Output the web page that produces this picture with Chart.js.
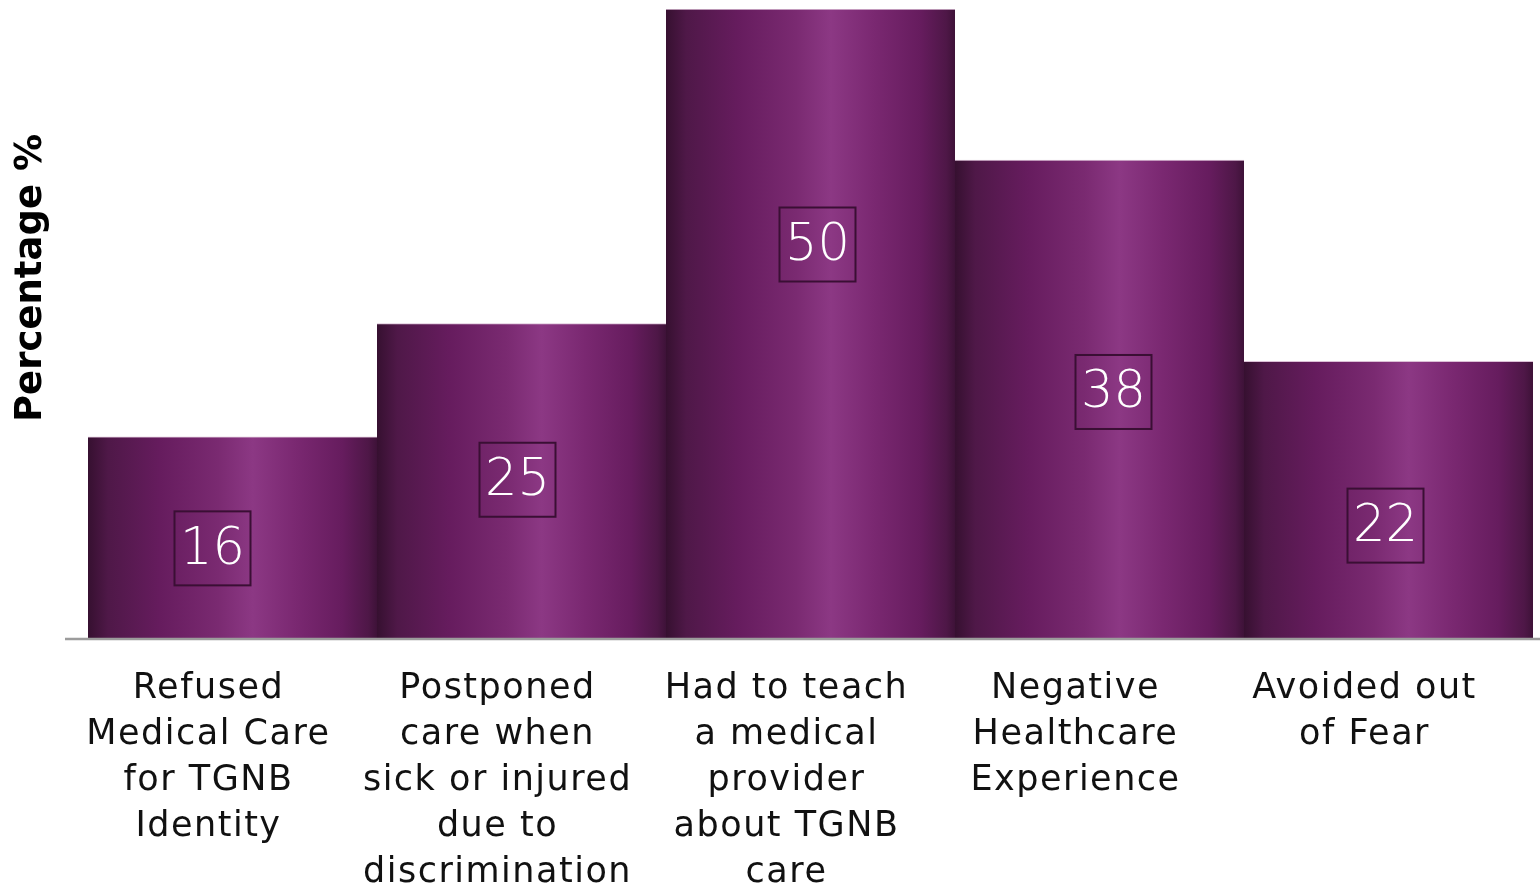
<!DOCTYPE html>
<html>
<head>
<meta charset="utf-8">
<script src="https://cdn.jsdelivr.net/npm/chart.js@4.4.0/dist/chart.umd.min.js"></script>
<style>
  html, body { margin: 0; padding: 0; background: #fff; }
</style>
</head>
<body>
<canvas id="myChart" width="1540" height="885"></canvas>
<script>
// data
const categories = [
  ['Refused', 'Medical Care', 'for TGNB', 'Identity'],
  ['Postponed', 'care when', 'sick or injured', 'due to', 'discrimination'],
  ['Had to teach', 'a medical', 'provider', 'about TGNB', 'care'],
  ['Negative', 'Healthcare', 'Experience'],
  ['Avoided out', 'of Fear']
]
const percentages = [16, 25, 50, 38, 22]
const yTitle = 'Percentage %'
const yMax = 50

// where the value boxes sit, relative to bar middle (as in the original slide)
const boxNudge = [[-20, 11], [-4, -1], [7, -79], [14, -7], [-3, 26]]
const FONT = '"DejaVu Sans", "Noto Sans", sans-serif'

// cylinder-ish shading across each bar
function barGradient(c) {
  const chart = c.chart
  const x = chart.scales.x
  if (!chart.chartArea || !x) return '#6e2066'
  const cx = x.getPixelForValue(c.dataIndex)
  const w = x.width / categories.length
  const g = chart.ctx.createLinearGradient(cx - w / 2, 0, cx + w / 2, 0)
  g.addColorStop(0, '#361030')
  g.addColorStop(0.07, '#4f1848')
  g.addColorStop(0.25, '#661c5e')
  g.addColorStop(0.45, '#7a2a71')
  g.addColorStop(0.57, '#8c3884')
  g.addColorStop(0.72, '#7a2871')
  g.addColorStop(0.88, '#661c5e')
  g.addColorStop(0.97, '#4e1747')
  g.addColorStop(1, '#3e1238')
  return g
}

const extras = {
  id: 'extras',
  beforeDraw(chart) {
    // the slide font is wide, so space the axis text out a little
    chart.ctx.letterSpacing = '1.5px'
  },
  beforeDatasetsDraw(chart) {
    chart.ctx.letterSpacing = '0px'
  },
  afterDatasetsDraw(chart) {
    const ctx = chart.ctx
    const area = chart.chartArea
    const y0 = chart.scales.y.getPixelForValue(0)

    // base line, runs a bit past the bars
    ctx.save()
    ctx.strokeStyle = '#9c9c9c'
    ctx.lineWidth = 2.5
    ctx.beginPath()
    ctx.moveTo(area.left - 23, y0 + 1)
    ctx.lineTo(chart.width, y0 + 1)
    ctx.stroke()

    // boxed value labels
    const meta = chart.getDatasetMeta(0)
    meta.data.forEach((bar, i) => {
      const cx = bar.x + boxNudge[i][0]
      const cy = (bar.y + bar.base) / 2 + boxNudge[i][1]
      ctx.strokeStyle = '#3a0f34'
      ctx.lineWidth = 2
      ctx.strokeRect(cx - 38, cy - 37, 76, 74)
      ctx.fillStyle = '#ffffff'
      ctx.font = '300 51px ' + FONT
      ctx.textAlign = 'center'
      ctx.textBaseline = 'middle'
      ctx.fillText(String(percentages[i]), cx, cy + 2)
    })
    ctx.restore()
  },
  afterDraw(chart) {
    const ctx = chart.ctx
    ctx.save()
    ctx.translate(31, 278)
    ctx.rotate(-Math.PI / 2)
    ctx.fillStyle = '#000'
    ctx.font = 'bold 37px ' + FONT
    ctx.textAlign = 'center'
    ctx.textBaseline = 'middle'
    ctx.fillText(yTitle, 0, 0)
    ctx.restore()
  }
}

const ch = document.getElementById('myChart')

new Chart(ch, {
  type: 'bar',
  data: {
    labels: categories,
    datasets: [{
      label: yTitle,
      data: percentages,
      backgroundColor: barGradient,
      borderColor: 'rgba(215,185,210,0.9)',
      borderWidth: {top: 1, left: 0, right: 0, bottom: 0},
      borderSkipped: 'bottom',
      barPercentage: 1,
      categoryPercentage: 1
    }]
  },
  options: {
    responsive: false,
    animation: false,
    devicePixelRatio: 1,
    layout: {
      padding: {left: 88, right: 7, top: 9, bottom: 0}
    },
    plugins: {
      legend: {display: false},
      tooltip: {enabled: false}
    },
    scales: {
      x: {
        grid: {display: false, drawTicks: false},
        border: {display: false},
        ticks: {
          color: '#111',
          font: {family: FONT, size: 35, lineHeight: 46 / 35},
          padding: 28,
          labelOffset: -24,
          maxRotation: 0,
          autoSkip: false
        },
        afterFit(axis) {
          axis.height = 247
        }
      },
      y: {
        display: false,
        min: 0,
        max: yMax
      }
    }
  },
  plugins: [extras]
})
</script>
</body>
</html>
